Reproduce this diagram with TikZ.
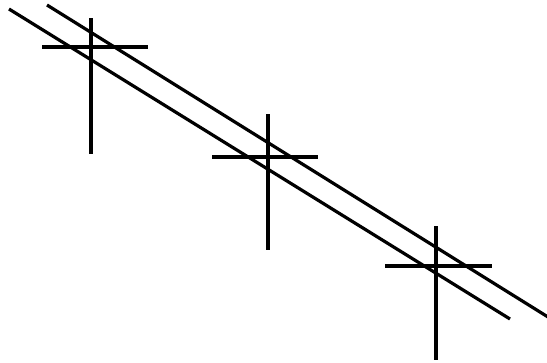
\documentclass[tikz,border=0pt]{standalone}
\begin{document}
\begin{tikzpicture}[x=1bp,y=-1bp,
  wire/.style={line width=3.2bp,black},
  crossbar/.style={line width=4.8bp,black}]
\useasboundingbox (0,0) rectangle (547,362);
% wires
\coordinate (u1) at (47,5);
\coordinate (u2) at (548,317);
\coordinate (l1) at (9,9);
\coordinate (l2) at (510,319);
\draw[wire] (u1) -- (u2);
\draw[wire] (l1) -- (l2);
% crosses
\draw[crossbar] (42,47) -- (148,47);
\draw[crossbar] (91,18) -- (91,154);
\draw[crossbar] (212,157) -- (318,157);
\draw[crossbar] (268,114) -- (268,250);
\draw[crossbar] (385,266) -- (492,266);
\draw[crossbar] (436,226) -- (436,360);
\end{tikzpicture}
\end{document}
